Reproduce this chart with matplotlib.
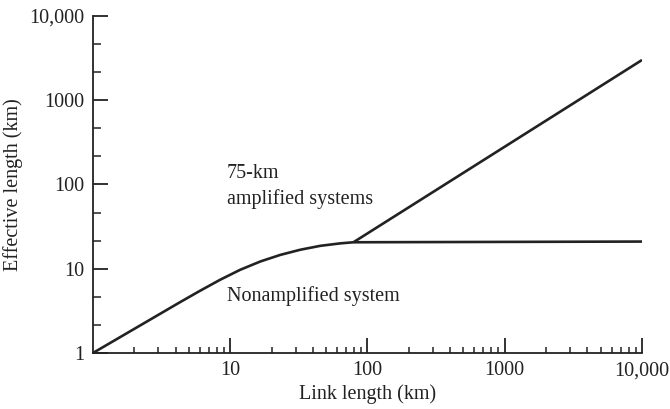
import matplotlib.pyplot as plt
import numpy as np
from matplotlib.ticker import FixedLocator, NullFormatter

plt.rcParams['font.family'] = ['Liberation Serif', 'DejaVu Serif']

# Нормальная (без усилителей) система
nonamp_x = [1, 4.3, 6.0, 8.45, 11.8, 16.6, 23.2, 32.4, 45.4, 63.5, 79, 10000]
nonamp_y = [1, 4.0, 5.45, 7.4, 9.7, 12.2, 14.6, 16.8, 18.7, 20.0, 20.6, 21]

# 75-км система с усилителями
amp_x = [79, 10000]
amp_y = [20.6, 3000]

y_major = [1, 10, 100, 1000, 10000]
y_labels = ['1', '10', '100', '1000', '10,000']
x_major = [10, 100, 1000, 10000]
x_labels = ['10', '100', '1000', '10,000']

fig = plt.figure(figsize=(6.7, 4.09), dpi=100)
ax = fig.add_axes([0.1388, 0.137, 0.8194, 0.824])

ink = '#222222'
ax.plot(nonamp_x, nonamp_y, color=ink, linewidth=1.9, solid_joinstyle='round')
ax.plot(amp_x, amp_y, color=ink, linewidth=1.9, solid_capstyle='butt')

ax.set_xscale('log')
ax.set_yscale('log')
ax.set_xlim(1, 10000)
ax.set_ylim(1, 10000)

ax.spines['top'].set_visible(False)
ax.spines['right'].set_visible(False)
for s in ('left', 'bottom'):
    ax.spines[s].set_color(ink)
    ax.spines[s].set_linewidth(1.3)

ax.yaxis.set_major_locator(FixedLocator(y_major))
ax.set_yticklabels(y_labels)
y_minor = [10 ** (k + f) for k in range(4) for f in (1 / 3, 2 / 3)]
ax.yaxis.set_minor_locator(FixedLocator(y_minor))
ax.yaxis.set_minor_formatter(NullFormatter())

ax.xaxis.set_major_locator(FixedLocator(x_major))
ax.set_xticklabels(x_labels)
x_minor = [m * 10 ** k for k in range(4) for m in range(2, 10)]
ax.xaxis.set_minor_locator(FixedLocator(x_minor))
ax.xaxis.set_minor_formatter(NullFormatter())

fs = 14.5
ax.tick_params(which='major', direction='in', length=11, width=1.3, color=ink,
               labelsize=fs, labelcolor=ink, pad=6)
ax.tick_params(axis='x', which='minor', direction='in', length=4, width=1.1, color=ink)
ax.tick_params(axis='y', which='minor', direction='in', length=5.5, width=1.1, color=ink)

ax.set_xlabel('Link length (km)', fontsize=fs, color=ink, labelpad=3)
ax.set_ylabel('Effective length (km)', fontsize=fs, color=ink, labelpad=5)

ax.text(9.4, 95, '75-km\namplified systems', fontsize=fs, color=ink,
        va='center', ha='left', linespacing=1.45)
ax.text(9.4, 4.7, 'Nonamplified system', fontsize=fs, color=ink,
        va='center', ha='left')

fig.savefig('out.png', dpi=100)
